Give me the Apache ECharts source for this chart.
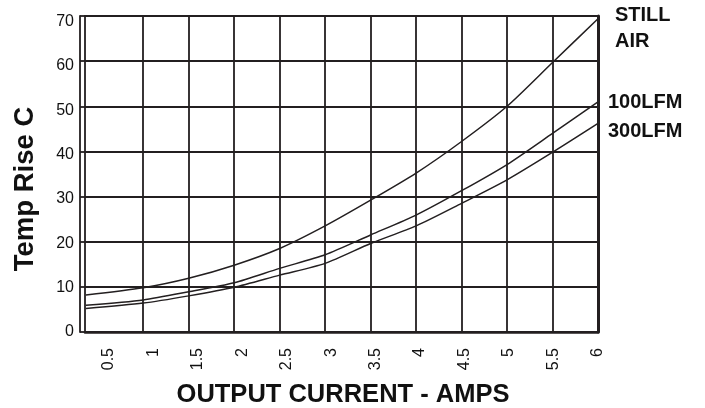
<!DOCTYPE html>
<html>
<head>
<meta charset="utf-8">
<script src="https://cdn.jsdelivr.net/npm/echarts@6/dist/echarts.min.js"></script>
<style>html,body{margin:0;padding:0;background:#fff}#c{width:705px;height:408px}</style>
</head>
<body>
<div id="c"></div>
<script>
// Output current (A)
const currents = [0.37, 1, 1.5, 2, 2.5, 3, 3.5, 4, 4.5, 5, 5.5, 6];
// Temperature rise (C)
const stillAir = [8.2, 9.8, 11.9, 14.8, 18.5, 23.5, 29.2, 35.2, 42.2, 50.0, 59.7, 69.4];
const lfm100   = [5.9, 7.1, 8.9, 10.9, 14.1, 17.1, 21.5, 25.9, 31.3, 37.1, 44.0, 51.0];
const lfm300   = [5.2, 6.4, 8.0, 9.9, 12.6, 15.2, 19.6, 23.5, 28.5, 33.7, 39.8, 46.2];
const seriesNames = ['STILL\nAIR', '100LFM', '300LFM'];
const gridValues = [1, 1.5, 2, 2.5, 3, 3.5, 4, 4.5, 5, 5.5, 6];
const xTickLabels = [0.5, 1, 1.5, 2, 2.5, 3, 3.5, 4, 4.5, 5, 5.5, 6];
const yTickLabels = [0, 10, 20, 30, 40, 50, 60, 70];

const FONT = '"Liberation Sans", Arial, Helvetica, sans-serif';
const INK = '#231f20';
const chart = echarts.init(document.getElementById('c'));

function pts(ys) { return currents.map((x, i) => [x, ys[i]]); }
function lineSeries(name, ys, offset) {
  return {
    type: 'line', name: name, data: pts(ys), xAxisIndex: 0, yAxisIndex: 0,
    smooth: 0.25, showSymbol: false, symbol: 'none',
    lineStyle: { color: INK, width: 1.5 },
    endLabel: {
      show: true, formatter: name, offset: offset,
      fontFamily: FONT, fontSize: 20, fontWeight: 'bold', color: '#111',
      lineHeight: 26, align: 'left'
    },
    animation: false
  };
}

chart.setOption({
  animation: false,
  grid: { left: 85, right: 107, top: 16, bottom: 76, show: true, borderColor: INK, borderWidth: 1.8, backgroundColor: 'transparent' },
  xAxis: [
    {
      type: 'value', min: 0.36, max: 6,
      axisLine: { show: true, lineStyle: { color: INK, width: 2.6 } },
      axisTick: { show: false, customValues: gridValues },
      axisLabel: { show: false },
      splitLine: { show: true, lineStyle: { color: INK, width: 1.8 } }
    },
    {
      type: 'value', min: 0.2335, max: 6, position: 'bottom',
      axisLine: { show: false }, axisTick: { show: false }, splitLine: { show: false },
      axisLabel: {
        show: true, customValues: xTickLabels, rotate: 90, margin: 16,
        fontFamily: FONT, fontSize: 16, color: '#111',
        formatter: v => String(v)
      }
    }
  ],
  yAxis: [
    {
      type: 'value', min: 0, max: 70, interval: 10, offset: 5,
      axisLine: { show: true, lineStyle: { color: INK, width: 1.8 } },
      axisTick: { show: true, inside: true, length: 5, lineStyle: { color: INK, width: 1.8 } },
      axisLabel: { show: false },
      splitLine: { show: true, lineStyle: { color: INK, width: 1.8 } }
    },
    {
      type: 'value', min: 0, max: 70, interval: 10, position: 'right',
      axisLine: { show: true, lineStyle: { color: INK, width: 3 } },
      axisTick: { show: false }, axisLabel: { show: false }, splitLine: { show: false }
    },
    {
      type: 'value', min: 0, max: 71.24, position: 'left', offset: 5,
      axisLine: { show: false }, axisTick: { show: false }, splitLine: { show: false },
      axisLabel: {
        show: true, customValues: yTickLabels, margin: 6,
        fontFamily: FONT, fontSize: 16, color: '#111',
        formatter: v => String(v)
      }
    }
  ],
  series: [
    lineSeries(seriesNames[0], stillAir, [9, 10]),
    lineSeries(seriesNames[1], lfm100, [2, 1]),
    lineSeries(seriesNames[2], lfm300, [2, 8])
  ],
  graphic: [
    {
      type: 'text', x: 25, y: 189, rotation: Math.PI / 2,
      style: { text: 'Temp Rise C', fontFamily: FONT, fontSize: 27.5, fontWeight: 'bold', fill: '#111', align: 'center', verticalAlign: 'middle' }
    },
    {
      type: 'text', x: 343, y: 395,
      style: { text: 'OUTPUT CURRENT - AMPS', fontFamily: FONT, fontSize: 25.5, fontWeight: 'bold', fill: '#111', align: 'center', verticalAlign: 'middle' }
    }
  ]
});
</script>
</body>
</html>
